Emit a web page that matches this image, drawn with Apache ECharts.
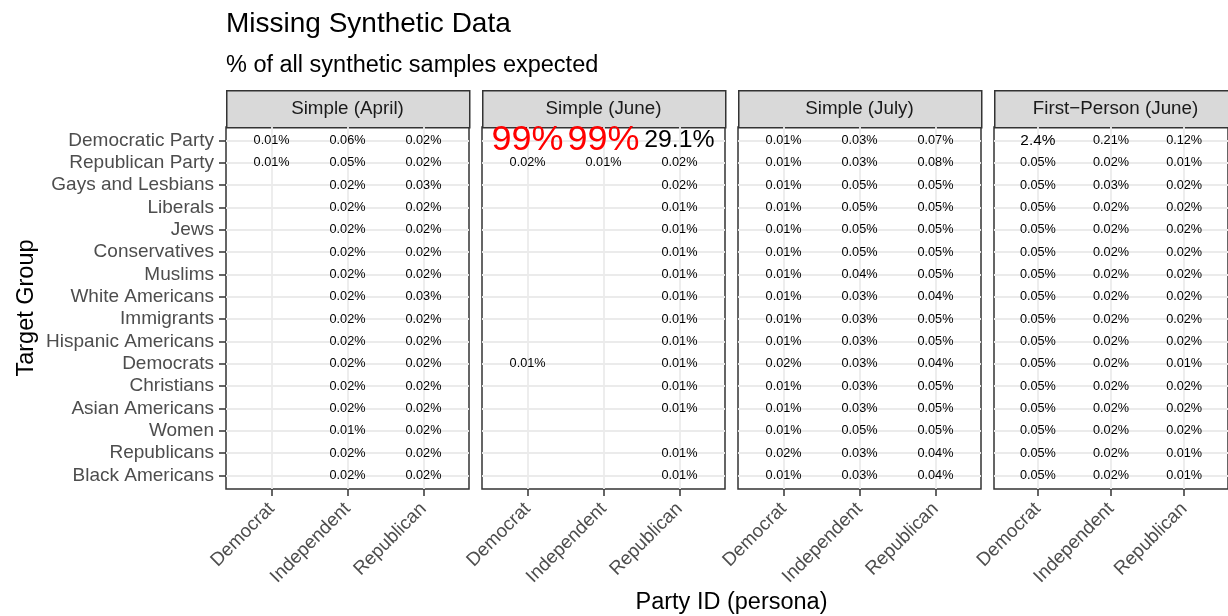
<!DOCTYPE html>
<html>
<head>
<meta charset="utf-8">
<title>Missing Synthetic Data</title>
<script src="https://cdn.jsdelivr.net/npm/echarts@6/dist/echarts.min.js"></script>
<style>
  html, body { margin: 0; padding: 0; background: #fff; }
  #chart { width: 1228px; height: 616px; }
</style>
</head>
<body>
<div id="chart"></div>
<script>
  // target groups, top to bottom
  var groups = ['Democratic Party', 'Republican Party', 'Gays and Lesbians', 'Liberals', 'Jews',
    'Conservatives', 'Muslims', 'White Americans', 'Immigrants', 'Hispanic Americans', 'Democrats',
    'Christians', 'Asian Americans', 'Women', 'Republicans', 'Black Americans'];
  var parties = ['Democrat', 'Independent', 'Republican'];
  var panelNames = ['Simple (April)', 'Simple (June)', 'Simple (July)', 'First\u2212Person (June)'];

  // % missing, one value per target group (null = no label)
  var aprilDem = [0.01, 0.01, null, null, null, null, null, null, null, null, null, null, null, null, null, null];
  var aprilInd = [0.06, 0.05, 0.02, 0.02, 0.02, 0.02, 0.02, 0.02, 0.02, 0.02, 0.02, 0.02, 0.02, 0.01, 0.02, 0.02];
  var aprilRep = [0.02, 0.02, 0.03, 0.02, 0.02, 0.02, 0.02, 0.03, 0.02, 0.02, 0.02, 0.02, 0.02, 0.02, 0.02, 0.02];

  var juneDem = [99, 0.02, null, null, null, null, null, null, null, null, 0.01, null, null, null, null, null];
  var juneInd = [99, 0.01, null, null, null, null, null, null, null, null, null, null, null, null, null, null];
  var juneRep = [29.1, 0.02, 0.02, 0.01, 0.01, 0.01, 0.01, 0.01, 0.01, 0.01, 0.01, 0.01, 0.01, null, 0.01, 0.01];

  var julyDem = [0.01, 0.01, 0.01, 0.01, 0.01, 0.01, 0.01, 0.01, 0.01, 0.01, 0.02, 0.01, 0.01, 0.01, 0.02, 0.01];
  var julyInd = [0.03, 0.03, 0.05, 0.05, 0.05, 0.05, 0.04, 0.03, 0.03, 0.03, 0.03, 0.03, 0.03, 0.05, 0.03, 0.03];
  var julyRep = [0.07, 0.08, 0.05, 0.05, 0.05, 0.05, 0.05, 0.04, 0.05, 0.05, 0.04, 0.05, 0.05, 0.05, 0.04, 0.04];

  var fpDem = [2.4, 0.05, 0.05, 0.05, 0.05, 0.05, 0.05, 0.05, 0.05, 0.05, 0.05, 0.05, 0.05, 0.05, 0.05, 0.05];
  var fpInd = [0.21, 0.02, 0.03, 0.02, 0.02, 0.02, 0.02, 0.02, 0.02, 0.02, 0.02, 0.02, 0.02, 0.02, 0.02, 0.02];
  var fpRep = [0.12, 0.01, 0.02, 0.02, 0.02, 0.02, 0.02, 0.02, 0.02, 0.02, 0.01, 0.02, 0.02, 0.02, 0.01, 0.01];

  var panelValues = [
    [aprilDem, aprilInd, aprilRep],
    [juneDem, juneInd, juneRep],
    [julyDem, julyInd, julyRep],
    [fpDem, fpInd, fpRep]
  ];

  var FONT = "'Liberation Sans', Arial, sans-serif";
  var panelLeft = [226, 482, 738, 994];
  var panelTop = 127, panelW = 243, panelH = 362;
  var partyPos = [1, 2, 3];
  var groupPos = groups.map(function (g, i) { return i + 1; });

  function fmt(v) {
    return (v < 1 ? v.toFixed(2) : v < 50 ? v.toFixed(1) : v.toFixed(0)) + '%';
  }
  function labelSize(v) {
    return 12.7 + Math.max(0, 2.45 * Math.sqrt(v) - 1.1);
  }

  var chart = echarts.init(document.getElementById('chart'));

  var grids = [], xAxes = [], yAxes = [], series = [], graphics = [];

  panelNames.forEach(function (name, i) {
    grids.push({
      left: panelLeft[i], top: panelTop, width: panelW, height: panelH,
      show: true, backgroundColor: '#fff', borderColor: '#333', borderWidth: 1.5
    });
    xAxes.push({
      type: 'value', gridIndex: i, min: 0.4, max: 3.6,
      axisLine: { show: false },
      axisTick: { show: true, length: 7, customValues: partyPos, lineStyle: { color: '#333', width: 1.5 } },
      axisLabel: {
        customValues: partyPos,
        formatter: function (v) { return parties[Math.round(v) - 1]; },
        rotate: 45, margin: 17, align: 'right', verticalAlign: 'middle',
        color: '#4d4d4d', fontSize: 18.8, fontFamily: FONT
      },
      splitLine: { show: true, lineStyle: { color: '#ebebeb', width: 1.8 } }
    });
    yAxes.push({
      type: 'value', gridIndex: i, min: 0.4, max: 16.6, inverse: true,
      name: i === 0 ? 'Target Group' : '',
      nameLocation: 'middle', nameRotate: 90, nameGap: 187,
      nameTextStyle: { color: '#000', fontSize: 23.5, fontFamily: FONT },
      axisLine: { show: false },
      axisTick: { show: i === 0, length: 7, customValues: groupPos, lineStyle: { color: '#333', width: 1.5 } },
      axisLabel: {
        show: i === 0,
        customValues: groupPos,
        formatter: function (v) { return groups[Math.round(v) - 1]; },
        margin: 12, color: '#4d4d4d', fontSize: 19, fontFamily: FONT
      },
      splitLine: { show: true, lineStyle: { color: '#ebebeb', width: 1.8 } }
    });

    var data = [];
    panelValues[i].forEach(function (col, p) {
      col.forEach(function (v, g) {
        if (v === null) return;
        data.push({
          value: [p + 1, g + 1, v],
          label: { fontSize: labelSize(v), color: v > 50 ? '#ff0000' : '#000000' }
        });
      });
    });
    series.push({
      type: 'scatter', xAxisIndex: i, yAxisIndex: i,
      symbolSize: 1, itemStyle: { color: 'rgba(0,0,0,0)' },
      silent: true, z: 5,
      label: {
        show: true, position: 'inside', fontFamily: FONT,
        textBorderWidth: 0, textShadowBlur: 0, opacity: 1,
        formatter: function (p) { return fmt(p.value[2]); }
      },
      data: data
    });

    // facet strip
    graphics.push({
      type: 'rect', left: panelLeft[i], top: 90,
      shape: { width: panelW, height: 37 },
      style: { fill: '#d9d9d9', stroke: '#333', lineWidth: 1.5 }
    });
    graphics.push({
      type: 'text', x: panelLeft[i] + panelW / 2, y: 108.5,
      style: {
        text: name, fill: '#1a1a1a', font: '18.8px ' + FONT,
        textAlign: 'center', textVerticalAlign: 'middle'
      }
    });
  });

  graphics.push({
    type: 'text', x: 226, y: 24,
    style: { text: 'Missing Synthetic Data', fill: '#000', font: '28px ' + FONT, textVerticalAlign: 'middle' }
  });
  graphics.push({
    type: 'text', x: 226, y: 66,
    style: { text: '% of all synthetic samples expected', fill: '#000', font: '23.5px ' + FONT, textVerticalAlign: 'middle' }
  });
  graphics.push({
    type: 'text', x: 731.5, y: 603,
    style: { text: 'Party ID (persona)', fill: '#000', font: '23.5px ' + FONT, textAlign: 'center', textVerticalAlign: 'middle' }
  });

  chart.setOption({
    animation: false,
    backgroundColor: '#fff',
    grid: grids,
    xAxis: xAxes,
    yAxis: yAxes,
    series: series,
    graphic: graphics
  });
</script>
</body>
</html>
